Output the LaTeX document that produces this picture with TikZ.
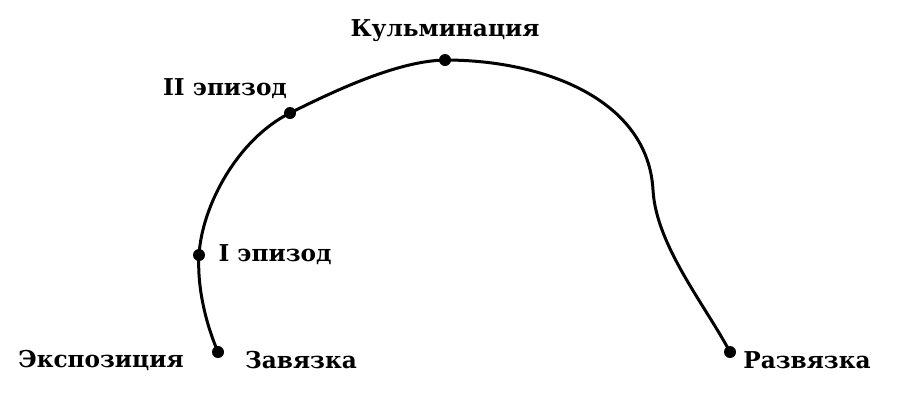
\documentclass[tikz,border=0pt]{standalone}
\usepackage{fontspec}
\setmainfont{DejaVu Serif}
\begin{document}
\begin{tikzpicture}[x=0.5pt,y=-0.5pt,
  pt/.style={circle,fill=black,inner sep=0pt,minimum size=6pt},
  lbl/.style={font=\bfseries\fontsize{11.6}{13}\selectfont,inner sep=0pt},
  curve/.style={line width=1.5pt,line cap=round}]
\useasboundingbox (0,0) rectangle (898,408);
\node[pt] (zav) at (218,352) {};
\node[pt] (ep1) at (199,255) {};
\node[pt] (ep2) at (290,113) {};
\node[pt] (kul) at (445,60) {};
\node[pt] (raz) at (730,352) {};
\coordinate (bend) at (653,190);
\draw[curve] (zav.center) .. controls (205,322) and (197,285) .. (ep1.center)
  .. controls (202,205) and (238,139) .. (ep2.center)
  .. controls (342,87) and (400,61) .. (kul.center)
  .. controls (545,60) and (648,100) .. (bend)
  .. controls (656,245) and (705,305) .. (raz.center);
\node[lbl] (tkul) at (445,31) {Кульминация};
\node[lbl] (tep2) at (225,89) {II эпизод};
\node[lbl] (tep1) at (275,255) {I эпизод};
\node[lbl] (texp) at (101,360) {Экспозиция};
\node[lbl] (tzav) at (301,360) {Завязка};
\node[lbl] (traz) at (807,360) {Развязка};
\end{tikzpicture}
\end{document}
